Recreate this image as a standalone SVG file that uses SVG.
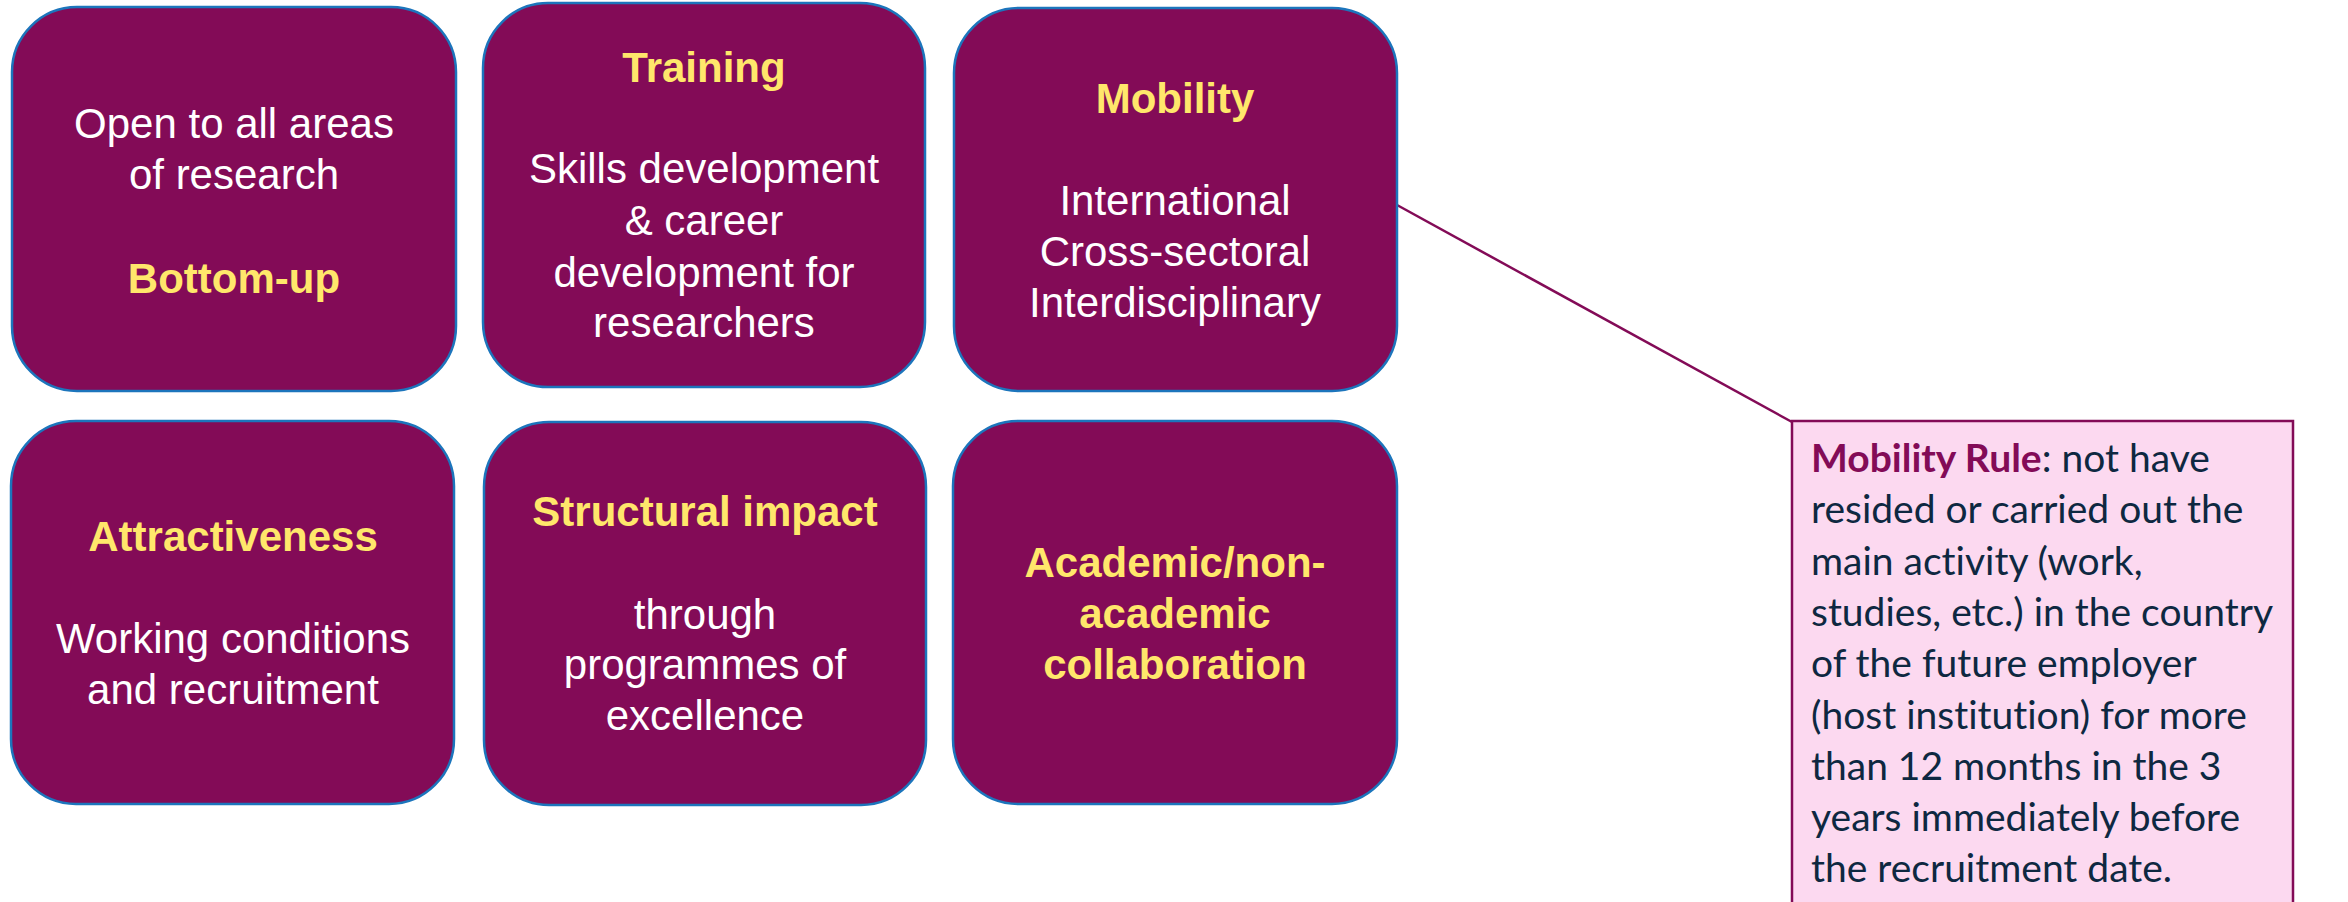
<svg xmlns="http://www.w3.org/2000/svg" width="2348" height="902" viewBox="0 0 2348 902">
<style>
.box{fill:#830B57;stroke:#1C75BC;stroke-width:2.5}
.t{font-family:"Liberation Sans",Arial,sans-serif;font-size:42px;text-anchor:middle}
.w{fill:#FFFFFF}
.y{fill:#FFE76B;font-weight:bold}
.conn{stroke:#830B57;stroke-width:2.5;fill:none}
.call{fill:#FCD9F0;stroke:#830B57;stroke-width:2.5}
.ct{font-family:Lato,"Noto Sans",sans-serif;font-size:39px;fill:#0E2841;font-variant-ligatures:none}
.cb{fill:#830B57;font-weight:bold}
</style>
<rect width="2348" height="902" fill="#FFFFFF"/>
<g id="connectors">
<line class="conn" x1="1397" y1="205" x2="1792" y2="422"/>
</g>
<g id="n1">
<rect class="box" x="12" y="7" width="444" height="384" rx="65"/>
<text class="t w" x="234" y="138">Open to all areas</text>
<text class="t w" x="234" y="189">of research</text>
<text class="t y" x="234" y="293">Bottom-up</text>
</g>
<g id="n2">
<rect class="box" x="483" y="3" width="442" height="384" rx="65"/>
<text class="t y" x="704" y="82">Training</text>
<text class="t w" x="704" y="183">Skills development</text>
<text class="t w" x="704" y="235">&amp; career</text>
<text class="t w" x="704" y="287">development for</text>
<text class="t w" x="704" y="337">researchers</text>
</g>
<g id="n3">
<rect class="box" x="954" y="8" width="443" height="383" rx="65"/>
<text class="t y" x="1175" y="113">Mobility</text>
<text class="t w" x="1175" y="215">International</text>
<text class="t w" x="1175" y="266">Cross-sectoral</text>
<text class="t w" x="1175" y="317">Interdisciplinary</text>
</g>
<g id="n4">
<rect class="box" x="11" y="421" width="443" height="383" rx="65"/>
<text class="t y" x="233" y="551">Attractiveness</text>
<text class="t w" x="233" y="653">Working conditions</text>
<text class="t w" x="233" y="704">and recruitment</text>
</g>
<g id="n5">
<rect class="box" x="484" y="422" width="442" height="383" rx="65"/>
<text class="t y" x="705" y="526">Structural impact</text>
<text class="t w" x="705" y="629">through</text>
<text class="t w" x="705" y="679">programmes of</text>
<text class="t w" x="705" y="730">excellence</text>
</g>
<g id="n6">
<rect class="box" x="953" y="421" width="444" height="383" rx="65"/>
<text class="t y" x="1175" y="577">Academic/non-</text>
<text class="t y" x="1175" y="628">academic</text>
<text class="t y" x="1175" y="679">collaboration</text>
</g>
<g id="callout">
<rect class="call" x="1792" y="421" width="501" height="500"/>
<text class="ct" x="1811" y="472"><tspan class="cb">Mobility Rule</tspan>: not have</text>
<text class="ct" x="1811" y="523">resided or carried out the</text>
<text class="ct" x="1811" y="575">main activity (work,</text>
<text class="ct" x="1811" y="626">studies, etc.) in the country</text>
<text class="ct" x="1811" y="677">of the future employer</text>
<text class="ct" x="1811" y="729">(host institution) for more</text>
<text class="ct" x="1811" y="780">than 12 months in the 3</text>
<text class="ct" x="1811" y="831">years immediately before</text>
<text class="ct" x="1811" y="882">the recruitment date.</text>
</g>
</svg>
